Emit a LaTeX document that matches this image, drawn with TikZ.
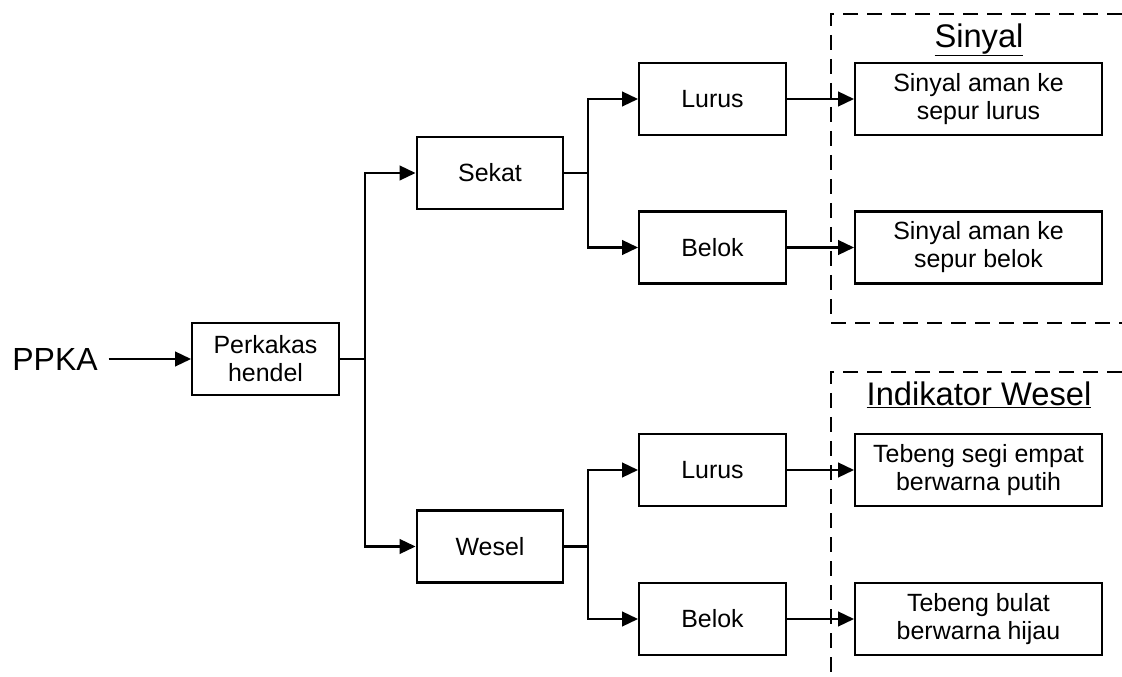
\documentclass[tikz,border=0pt]{standalone}
\usepackage{fontspec}
\setmainfont{Liberation Sans}
\usetikzlibrary{arrows.meta}
\begin{document}
\begin{tikzpicture}[x=0.75pt,y=-0.75pt,
  box/.style={draw,line width=1.7pt,minimum width=110pt,minimum height=54pt,inner sep=0pt,align=center,font=\fontsize{18.7}{21}\selectfont},
  wbox/.style={box,minimum width=185pt},
  conn/.style={line width=1.7pt},
  arr/.style={conn,-{Triangle[length=12pt,width=11pt]}},
  dashline/.style={line width=1.6pt,dash pattern=on 11pt off 7pt},
  title/.style={font=\fontsize{24.5}{28}\selectfont}]
\useasboundingbox (0,0) rectangle (1122,677);
% nodes
\node[font=\fontsize{24}{28}\selectfont,inner sep=0pt] (ppka) at (55,359) {PPKA};
\node[box] (perk) at (265.5,359) {Perkakas\\hendel};
\node[box] (sekat) at (490,173) {Sekat};
\node[box] (wesel) at (490,546.5) {Wesel};
\node[box] (lurus1) at (712.5,99) {Lurus};
\node[box] (belok1) at (712.5,247.5) {Belok};
\node[box] (lurus2) at (712.5,470) {Lurus};
\node[box] (belok2) at (712.5,619) {Belok};
\node[wbox] (s1) at (978.5,99) {Sinyal aman ke\\sepur lurus};
\node[wbox] (s2) at (978.5,247.5) {Sinyal aman ke\\sepur belok};
\node[wbox] (i1) at (978.5,470) {Tebeng segi empat\\berwarna putih};
\node[wbox] (i2) at (978.5,619) {Tebeng bulat\\berwarna hijau};
\node[title] (tsin) at (979,40) {\underline{Sinyal}};
\node[title] (tind) at (979,395) {\underline{Indikator Wesel}};
% coordinates
\coordinate (trunk) at (365,359);
\coordinate (bs) at (588,173);
\coordinate (bw) at (588,546.5);
\coordinate (d1a) at (831,14);
\coordinate (d1b) at (1122,14);
\coordinate (d1c) at (831,323);
\coordinate (d1d) at (1122,323);
\coordinate (d2a) at (831,372);
\coordinate (d2b) at (1122,372);
\coordinate (d2c) at (831,677);
% dashed groups
\draw[dashline] (d1b) -- (d1a) -- (d1c);
\draw[dashline] (d1c) -- (d1d);
\draw[dashline] (d2b) -- (d2a) -- (d2c);
% connectors
\draw[arr] ([xshift=8pt]ppka.east |- perk.west) -- (perk.west);
\draw[conn] (perk.east) -- (trunk);
\draw[arr] (trunk) |- (sekat.west);
\draw[arr] (trunk) |- (wesel.west);
\draw[conn] (sekat.east) -- (bs);
\draw[arr] (bs) |- (lurus1.west);
\draw[arr] (bs) |- (belok1.west);
\draw[conn] (wesel.east) -- (bw);
\draw[arr] (bw) |- (lurus2.west);
\draw[arr] (bw) |- (belok2.west);
\draw[arr] (lurus1.east) -- (s1.west);
\draw[arr] (belok1.east) -- (s2.west);
\draw[arr] (lurus2.east) -- (i1.west);
\draw[arr] (belok2.east) -- (i2.west);
\end{tikzpicture}
\end{document}
